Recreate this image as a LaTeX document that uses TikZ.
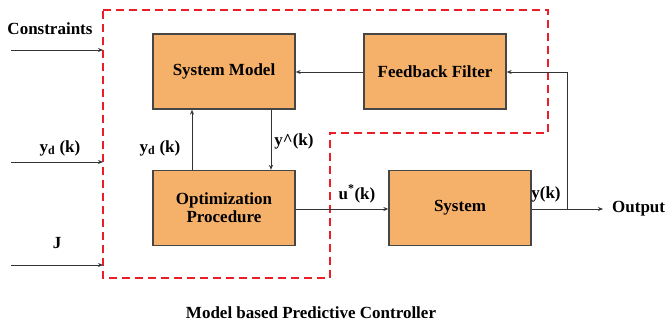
\documentclass[tikz,border=0pt]{standalone}
\usepackage{fontspec}
\setmainfont{Liberation Serif}
\usetikzlibrary{arrows.meta}
\definecolor{boxfill}{RGB}{245,176,106}
\definecolor{boxline}{RGB}{70,70,70}
\definecolor{ctrlred}{RGB}{235,30,40}
\tikzset{
  block/.style={draw=boxline, line width=1.3pt, fill=boxfill, minimum width=142pt,
    minimum height=75pt, align=center, font=\fontsize{17}{19}\selectfont\bfseries},
  sig/.style={draw=black!80, line width=1pt, -{Stealth[length=5pt,width=4pt]}},
  wire/.style={draw=black!80, line width=1pt},
  lbl/.style={font=\fontsize{17}{19}\selectfont\bfseries, inner sep=0pt},
  ctrlbox/.style={draw=ctrlred, line width=2.2pt, dash pattern=on 8pt off 5pt}
}
\begin{document}
\begin{tikzpicture}[x=1pt,y=-1pt]
\useasboundingbox (0,0) rectangle (665,324);

% controller boundary
\draw[ctrlbox] (103,10) -- (548,10) -- (548,133) -- (330,133) -- (330,278) -- (103,278) -- cycle;

% blocks
\node[block] (sm)  at (224,71.5) {System Model};
\node[block] (ff)  at (435,71.5) {Feedback Filter};
\node[block] (opt) at (224,208) {Optimization\\[-1pt]Procedure};
\node[block] (sys) at (460,208) {System};

% external inputs
\coordinate (c0) at (11,50);   \coordinate (c1) at (103,50);
\coordinate (y0) at (11,162);  \coordinate (y1) at (103,162);
\coordinate (j0) at (11,265);  \coordinate (j1) at (103,265);
\draw[sig] (c0) -- (c1);
\draw[sig] (y0) -- (y1);
\draw[sig] (j0) -- (j1);
\node[lbl] (lc) at (50,29) {Constraints};
\node[lbl] (ly) at (60,148) {y\textsubscript{d} (k)};
\node[lbl] (lj) at (57,243) {J};

% inner loop between optimizer and model
\draw[sig] (opt.north -| 192,0) -- (sm.south -| 192,0);
\draw[sig] (sm.south -| 271,0) -- (opt.north -| 271,0);
\node[lbl] (lyd) at (160,148) {y\textsubscript{d} (k)};
\node[lbl] (lyh) at (294,141) {y\^{}(k)};

% feedback filter to model
\draw[sig] (ff.west |- 0,72) -- (sm.east |- 0,72);

% control signal and plant output
\coordinate (jn) at (567,209);
\coordinate (out) at (603,209);
\draw[sig] (opt.east |- 0,209) -- (sys.west |- 0,209);
\draw[wire] (sys.east |- 0,209) -- (jn);
\draw[sig] (jn) -- (out);
\draw[sig] (jn) -- (567,72) -- (ff.east |- 0,72);
\node[lbl, anchor=west] (lo) at (612,209) {Output};
\node[lbl] (lu) at (357,194) {u\textsuperscript{*}(k)};
\node[lbl] (lyk) at (546,194) {y(k)};

% caption
\node[lbl] (cap) at (311,313) {Model based Predictive Controller};
\end{tikzpicture}
\end{document}
